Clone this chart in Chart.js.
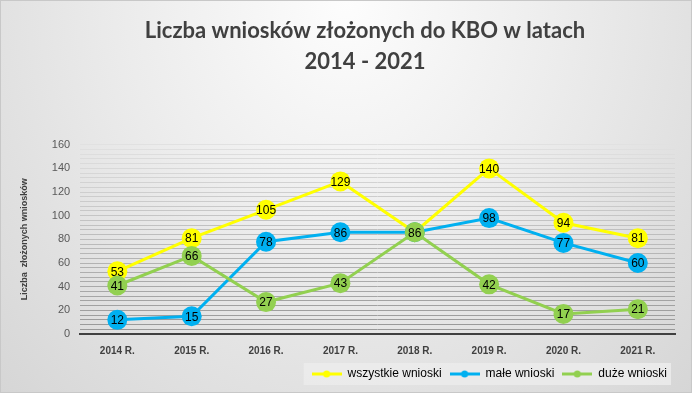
<!DOCTYPE html>
<html>
<head>
<meta charset="utf-8">
<script src="https://cdn.jsdelivr.net/npm/chart.js@4.4.1/dist/chart.umd.min.js"></script>
<style>
  html, body { margin: 0; padding: 0; }
  #wrap {
    width: 690px; height: 391px;
    border: 1px solid #c8c8c8;
    background: radial-gradient(ellipse at 50% 0%, #fdfdfd 0%, #ececec 45%, #d6d6d6 100%);
    position: relative;
  }
</style>
</head>
<body>
<div id="wrap"><canvas id="lineChart" width="690" height="391"></canvas></div>
<script>
const years = ['2014 R.', '2015 R.', '2016 R.', '2017 R.', '2018 R.', '2019 R.', '2020 R.', '2021 R.'];
const wszystkie = [53, 81, 105, 129, 86, 140, 94, 81];
const male = [12, 15, 78, 86, 86, 98, 77, 60];
const duze = [41, 66, 27, 43, 86, 42, 17, 21];

const YELLOW = '#ffff00';
const BLUE = '#00b0f0';
const GREEN = '#92d050';

// small line+dot sample for the legend
function legendMark(color) {
  const c = document.createElement('canvas');
  c.width = 30; c.height = 8;
  const x = c.getContext('2d');
  x.strokeStyle = color; x.lineWidth = 3;
  x.beginPath(); x.moveTo(0, 4); x.lineTo(30, 4); x.stroke();
  x.fillStyle = color;
  x.beginPath(); x.arc(15, 4, 3.5, 0, Math.PI * 2); x.fill();
  return c;
}

const valueLabels = {
  id: 'valueLabels',
  afterDatasetDraw(chart, args) {
    const ctx = chart.ctx;
    const ds = chart.data.datasets[args.index];
    ctx.save();
    ctx.font = '12px "Liberation Sans", Arial, sans-serif';
    ctx.fillStyle = '#000';
    ctx.textAlign = 'center';
    ctx.textBaseline = 'middle';
    args.meta.data.forEach((pt, i) => {
      ctx.fillText(ds.data[i], pt.x, pt.y + 1);
    });
    ctx.restore();
  }
};

const legendBack = {
  id: 'legendBack',
  beforeDraw(chart) {
    const w = chart.legend.legendHitBoxes || [];
    const ctx = chart.ctx;
    if (!w.length) return;
    ctx.save();
    ctx.fillStyle = 'rgba(235,235,235,0.9)';
    const l = w[0].left - 8, r = w[w.length - 1].left + w[w.length - 1].width + 4;
    ctx.fillRect(l, w[0].top - 5, r - l, w[0].height + 10);
    ctx.restore();
  }
};

// title in the original sits a bit right of centre
const titleShift = {
  id: 'titleShift',
  afterLayout(chart) {
    const t = chart.titleBlock;
    if (t) { t.left += 20; t.right += 20; }
  }
};

const line = new Chart(document.getElementById('lineChart').getContext('2d'), {
  type: 'line',
  data: {
    labels: years,
    datasets: [
      { label: 'wszystkie wnioski', data: wszystkie, borderColor: YELLOW, backgroundColor: YELLOW, order: 3 },
      { label: 'małe wnioski', data: male, borderColor: BLUE, backgroundColor: BLUE, order: 2 },
      { label: 'duże wnioski', data: duze, borderColor: GREEN, backgroundColor: GREEN, order: 1 }
    ]
  },
  plugins: [titleShift, legendBack, valueLabels],
  options: {
    responsive: false,
    animation: false,
    layout: { padding: { left: 14, right: 16, top: 8, bottom: 2 } },
    elements: {
      line: { borderWidth: 3, tension: 0, fill: false },
      point: { radius: 10, pointStyle: 'circle', borderWidth: 0 }
    },
    plugins: {
      tooltip: { enabled: false },
      title: {
        display: true,
        text: ['Liczba wniosków złożonych do KBO w latach', '2014 - 2021'],
        color: '#404040',
        font: { family: 'Lato, "Open Sans", sans-serif', size: 22, weight: 'bold', lineHeight: 1.38 },
        padding: { top: 7, bottom: 68 }
      },
      legend: {
        position: 'bottom',
        align: 'end',
        labels: {
          usePointStyle: true,
          pointStyleWidth: 30,
          boxHeight: 8,
          padding: 8,
          color: '#262626',
          font: { family: '"Liberation Sans", Arial, sans-serif', size: 12 },
          generateLabels(chart) {
            return chart.data.datasets.map((d, i) => ({
              text: d.label, datasetIndex: i, pointStyle: legendMark(d.borderColor),
              fillStyle: d.borderColor, strokeStyle: d.borderColor, lineWidth: 0, hidden: false
            }));
          }
        }
      }
    },
    scales: {
      x: {
        offset: true,
        grid: { display: false },
        border: { display: true, color: '#404040', width: 2 },
        ticks: { color: '#404040', font: { family: '"Liberation Sans", Arial, sans-serif', size: 10, weight: 'bold' }, padding: 3 }
      },
      y: {
        min: 0,
        max: 160,
        border: { display: false },
        ticks: {
          stepSize: 4,
          autoSkip: false,
          color: '#595959',
          padding: 10,
          font: { family: '"Liberation Sans", Arial, sans-serif', size: 11 },
          callback: (v) => (v % 20 === 0 ? v : '')
        },
        grid: {
          drawTicks: false,
          lineWidth: 1,
          color: (c) => {
            const t = c.tick.value / 160;
            const g = Math.round(150 + t * 75);
            return 'rgb(' + g + ',' + g + ',' + g + ')';
          }
        },
        title: {
          display: true,
          text: 'Liczba  złożonych wniosków',
          color: '#404040',
          font: { family: '"Liberation Sans", Arial, sans-serif', size: 9, weight: 'bold' },
          padding: { bottom: 12 }
        }
      }
    }
  }
});
</script>
</body>
</html>
